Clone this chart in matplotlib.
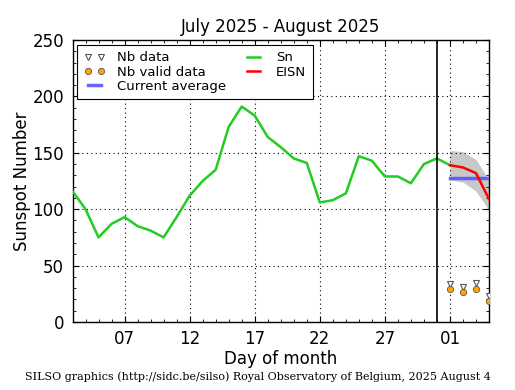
import matplotlib
matplotlib.use("Agg")
import matplotlib.pyplot as plt
from matplotlib.ticker import MultipleLocator, FixedLocator
from matplotlib.lines import Line2D

# Day index: July days as 1..31, August 1 = 32
sn_days = list(range(3, 33))
sn_values = [116, 100, 75, 87, 93, 85, 81, 75, 93, 112, 125, 135, 173, 191, 183, 164,
             155, 145, 141, 106, 108, 114, 147, 143, 129, 129, 123, 140, 145, 139]

eisn_days = [32, 33, 34, 35]
eisn_values = [139, 137, 132, 109]
eisn_upper = [152, 151, 144, 126]
eisn_lower = [126, 124, 116, 99]

avg_days = [32, 35]
avg_values = [128, 128]

nb_days = [32, 33, 34, 35]
nb_data = [34, 31, 35, 23]
nb_valid = [29.5, 27, 29.5, 19]

tick_days = [7, 12, 17, 22, 27, 32]
tick_labels = ["07", "12", "17", "22", "27", "01"]
month_boundary = 31

fig = plt.figure(figsize=(5.15, 3.9), dpi=100, facecolor="white")
ax = fig.add_axes([0.1408, 0.1744, 0.8087, 0.723])

ax.fill_between(eisn_days, eisn_lower, eisn_upper, color="#c8c8c8", lw=0, zorder=1)
ax.plot(sn_days, sn_values, color="#22cc22", lw=1.8, zorder=3, label="Sn")
ax.plot(avg_days, avg_values, color="#5555ff", lw=2.5, alpha=0.9, zorder=3, label="Current average")
ax.plot(eisn_days, eisn_values, color="red", lw=1.8, zorder=4, label="EISN")
ax.plot(nb_days, nb_data, ls="none", marker="v", ms=4, mfc="white", mec="#555555", mew=0.8, zorder=5, label="Nb data")
ax.plot(nb_days, nb_valid, ls="none", marker="o", ms=4.5, mfc="#ffa500", mec="#555555", mew=0.6, zorder=6, label="Nb valid data")
ax.axvline(month_boundary, color="black", lw=1.2, zorder=4)

ax.set_xlim(3, 35)
ax.set_ylim(0, 250)
ax.xaxis.set_major_locator(FixedLocator(tick_days))
ax.set_xticklabels(tick_labels)
ax.xaxis.set_minor_locator(MultipleLocator(1))
ax.yaxis.set_major_locator(MultipleLocator(50))
ax.yaxis.set_minor_locator(MultipleLocator(10))
ax.tick_params(which="both", direction="in", top=True, right=True, labelsize=12, pad=6)
ax.tick_params(which="major", length=4, width=0.8)
ax.tick_params(which="minor", length=2, width=0.6)
ax.grid(True, which="major", color="black", ls=(0, (1, 3)), lw=0.8)
for s in ax.spines.values():
    s.set_linewidth(1.0)

ax.set_title("July 2025 - August 2025", fontsize=12, pad=6)
ax.set_xlabel("Day of month", fontsize=12, labelpad=1)
ax.set_ylabel("Sunspot Number", fontsize=12, labelpad=1)

handles = [
    Line2D([], [], ls="none", marker="v", ms=4, mfc="white", mec="#555555", mew=0.8),
    Line2D([], [], ls="none", marker="o", ms=4.5, mfc="#ffa500", mec="#555555", mew=0.6),
    Line2D([], [], color="#5555ff", lw=2.5, alpha=0.9),
    Line2D([], [], color="#22cc22", lw=1.8),
    Line2D([], [], color="red", lw=1.8),
]
labels = ["Nb data", "Nb valid data", "Current average", "Sn", "EISN"]
leg = ax.legend(handles, labels, loc="upper left", ncol=2, numpoints=2, fontsize=9.5,
                frameon=True, fancybox=False, edgecolor="black", framealpha=1,
                borderaxespad=0.35, handlelength=1.6, handletextpad=0.9, columnspacing=1.3,
                labelspacing=0.1, borderpad=0.5)
leg.get_frame().set_linewidth(0.8)

fig.text(0.5, 0.02, "SILSO graphics (http://sidc.be/silso) Royal Observatory of Belgium, 2025 August 4",
         ha="center", va="bottom", fontsize=8, family="DejaVu Serif")

fig.savefig("out.png", dpi=100, facecolor="white")
